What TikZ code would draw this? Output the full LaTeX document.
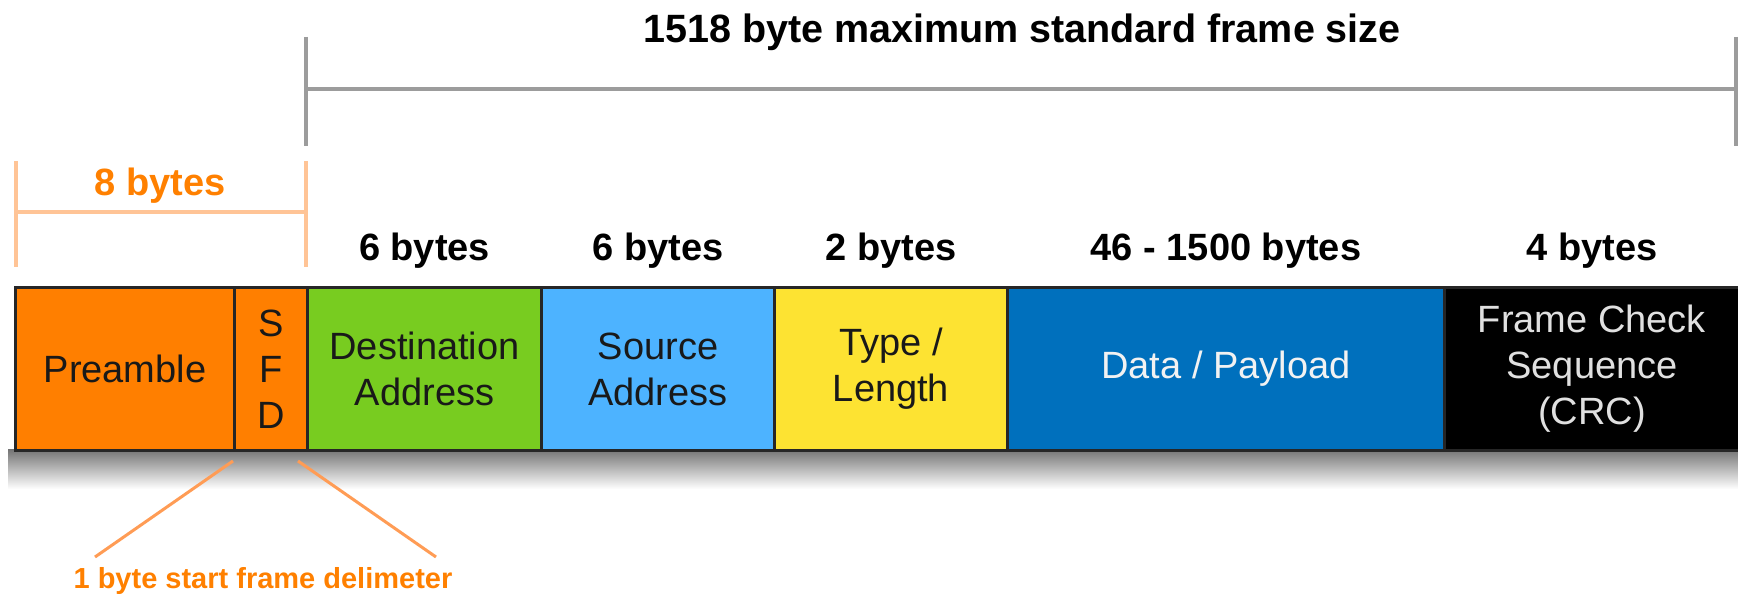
\documentclass[tikz,border=0pt]{standalone}
\usepackage{fontspec}
\setmainfont{Liberation Sans}
\usetikzlibrary{calc}
\definecolor{preorange}{HTML}{FF7F00}
\definecolor{destgreen}{HTML}{78CC20}
\definecolor{srcblue}{HTML}{4DB3FF}
\definecolor{typeyellow}{HTML}{FDE332}
\definecolor{datablue}{HTML}{0070BD}
\definecolor{txtorange}{HTML}{FF8000}
\definecolor{peach}{HTML}{FFC496}
\definecolor{sfdorange}{HTML}{FF9C55}
\definecolor{barGray}{HTML}{9C9C9C}
\tikzset{
  cell/.style={draw=black!85, line width=3pt, anchor=north west, minimum height=163pt,
    inner sep=0pt, align=center, font=\fontsize{38}{46}\selectfont, text=black!90},
  bytelbl/.style={font=\bfseries\fontsize{38}{46}\selectfont, anchor=base, inner sep=0pt},
  graybar/.style={draw=barGray, line width=4pt},
  peachbar/.style={draw=peach, line width=4pt},
  sfdline/.style={draw=sfdorange, line width=3pt},
}
\begin{document}
\begin{tikzpicture}[x=1pt,y=-1pt]
\useasboundingbox (0,0) rectangle (1738,607);
% shadow
\shade[top color=black!55, bottom color=white] (8,449) rectangle (1738,489);
% cells
\node[cell, fill=preorange, minimum width=219pt] (pre) at (14,286) {Preamble};
\node[cell, fill=preorange, minimum width=73pt] (sfd) at (233,286) {S\\F\\D};
\node[cell, fill=destgreen, minimum width=234pt] (dst) at (306,286) {Destination\\Address};
\node[cell, fill=srcblue, minimum width=233pt] (src) at (540,286) {Source\\Address};
\node[cell, fill=typeyellow, minimum width=233pt] (typ) at (773,286) {Type /\\Length};
\node[cell, fill=datablue, minimum width=437pt, text=white!95!black] (dat) at (1006,286) {Data / Payload};
\node[cell, fill=black, minimum width=295pt, text=black!12] (fcs) at (1443,286) {Frame Check\\Sequence\\(CRC)};
% byte labels
\node[bytelbl] (bdst) at ($(dst.north)+(0,-26)$) {6 bytes};
\node[bytelbl] (bsrc) at ($(src.north)+(0,-26)$) {6 bytes};
\node[bytelbl] (btyp) at ($(typ.north)+(0,-26)$) {2 bytes};
\node[bytelbl] (bdat) at ($(dat.north)+(0,-26)$) {46 - 1500 bytes};
\node[bytelbl] (bfcs) at ($(fcs.north)+(0,-26)$) {4 bytes};
% top bracket
\coordinate (tl1) at (306,37); \coordinate (tl2) at (306,146);
\coordinate (tr1) at (1736,37); \coordinate (tr2) at (1736,146);
\coordinate (tm1) at (306,89); \coordinate (tm2) at (1738,89);
\draw[graybar] (tl1) -- (tl2);
\draw[graybar] (tr1) -- (tr2);
\draw[graybar] (tm1) -- (tm2);
\node[bytelbl, font=\bfseries\fontsize{39.5}{46}\selectfont] (title) at (1022,43) {1518 byte maximum standard frame size};
% orange bracket
\coordinate (ol1) at (15.5,161); \coordinate (ol2) at (15.5,267);
\coordinate (or1) at (306,161); \coordinate (or2) at (306,267);
\coordinate (om1) at (15.5,212); \coordinate (om2) at (306,212);
\draw[peachbar] (ol1) -- (ol2);
\draw[peachbar] (or1) -- (or2);
\draw[peachbar] (om1) -- (om2);
\node[bytelbl, text=txtorange] (eight) at (160,195) {8 bytes};
% SFD callout
\coordinate (d1a) at (233,461); \coordinate (d1b) at (95,557);
\coordinate (d2a) at (298,461); \coordinate (d2b) at (436,557);
\draw[sfdline] (d1a) -- (d1b);
\draw[sfdline] (d2a) -- (d2b);
\node[font=\bfseries\fontsize{29}{35}\selectfont, text=txtorange, anchor=base, inner sep=0pt] (sfdlbl) at (263,588) {1 byte start frame delimeter};
\end{tikzpicture}
\end{document}
